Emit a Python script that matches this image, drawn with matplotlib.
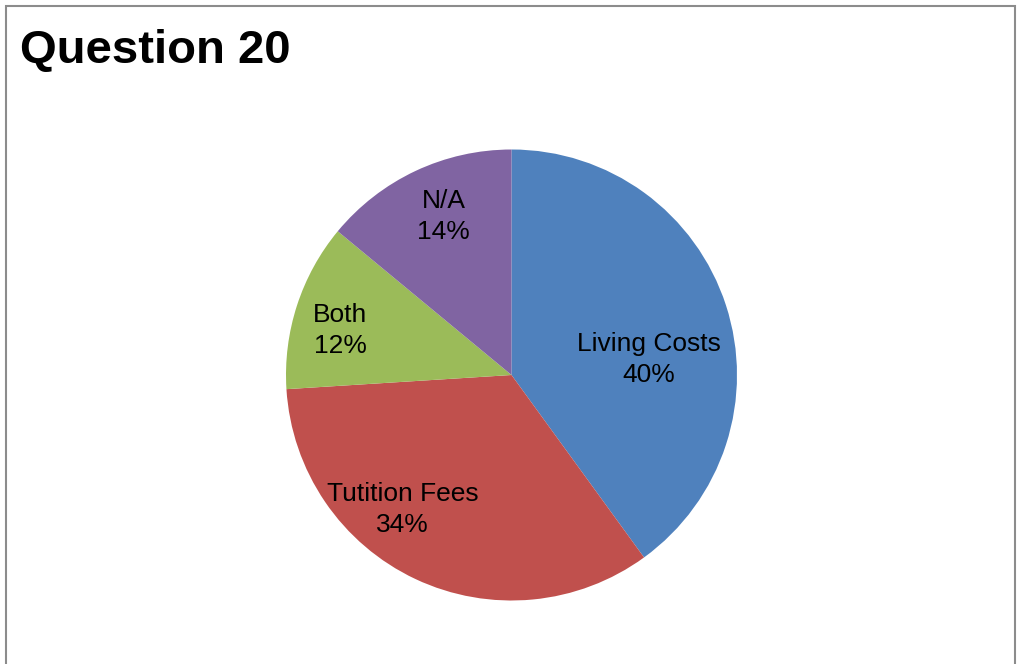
import matplotlib.pyplot as plt
import matplotlib.patches as patches

plt.rcParams['font.family'] = ['Liberation Sans', 'DejaVu Sans']

# Data
categories = ["Living Costs", "Tutition Fees", "Both", "N/A"]
shares = [40, 34, 12, 14]
colors = ["#4F81BD", "#C0504D", "#9BBB59", "#8064A2"]

# label anchors (fractions of the radius), Excel "best fit" style
labelOffsets = [(0.609, 0.067), (-0.484, -0.595), (-0.76, 0.198), (-0.302, 0.703)]

W, H = 1017, 664
fig = plt.figure(figsize=(W / 100, H / 100), dpi=100)

# outer chart border (bottom edge is cut off in the reference)
border = patches.Rectangle((6 / W, -0.02), (1015 - 6) / W, 1 - 6 / H + 0.02,
                           transform=fig.transFigure, fill=False,
                           edgecolor="#8c8c8c", linewidth=1.5)
fig.patches.append(border)

fig.text(20 / W, 1 - 63 / H, "Question 20", fontsize=34, fontweight="bold",
         ha="left", va="baseline")

cx, cy, r = 511.5, 375, 225.5
ax = fig.add_axes([(cx - r) / W, (H - cy - r) / H, 2 * r / W, 2 * r / H])
wedges, _ = ax.pie(shares, colors=colors, startangle=90, counterclock=False,
                   radius=1, wedgeprops=dict(linewidth=0, edgecolor="none"))
ax.set_xlim(-1, 1)
ax.set_ylim(-1, 1)
ax.set_aspect("equal")
ax.axis("off")

for name, share, (dx, dy) in zip(categories, shares, labelOffsets):
    ax.text(dx, dy, "{}\n{}%".format(name, share), ha="center", va="center",
            fontsize=19, linespacing=1.37)

plt.savefig("out.png", dpi=100)
